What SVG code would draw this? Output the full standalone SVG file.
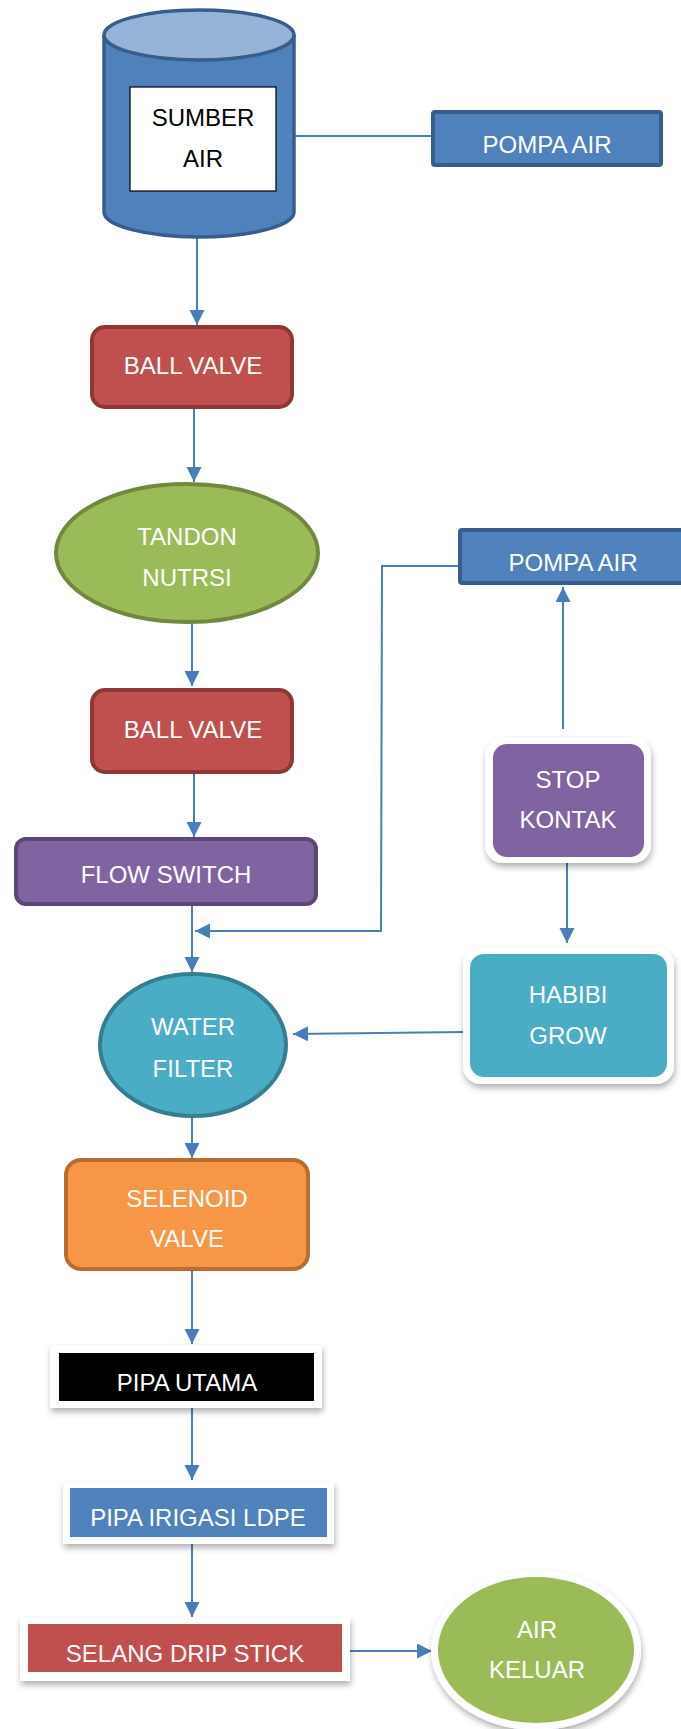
<svg xmlns="http://www.w3.org/2000/svg" width="681" height="1729" viewBox="0 0 681 1729">
<defs>
<marker id="arr" markerUnits="userSpaceOnUse" markerWidth="16" markerHeight="16" refX="15" refY="7.5" orient="auto">
<path d="M0,0 L15,7.5 L0,15 z" fill="#4A7EBB"/>
</marker>
<filter id="sh" x="-20%" y="-20%" width="140%" height="150%">
<feDropShadow dx="1" dy="4" stdDeviation="3" flood-color="#000" flood-opacity="0.3"/>
</filter>
</defs>
<style>
text{font-family:"Liberation Sans",Arial,sans-serif;font-size:24px;text-anchor:middle;fill:#fff}
.conn{fill:none;stroke:#4A7EBB;stroke-width:2}
.blue{fill:#4F81BD;stroke:#385D8A;stroke-width:4}
.red{fill:#C0504D;stroke:#8C3836;stroke-width:4}
.purple{fill:#8064A2;stroke:#5C4776;stroke-width:4}
.frame{fill:#fff;filter:url(#sh)}
</style>
<rect width="681" height="1729" fill="#fff"/>

<g id="connectors">
<line class="conn" x1="197" y1="237" x2="197" y2="325" marker-end="url(#arr)"/>
<line class="conn" x1="294" y1="136" x2="432" y2="136"/>
<line class="conn" x1="194" y1="397" x2="194" y2="482" marker-end="url(#arr)"/>
<line class="conn" x1="192" y1="607" x2="192" y2="686" marker-end="url(#arr)"/>
<line class="conn" x1="194" y1="758" x2="194" y2="837" marker-end="url(#arr)"/>
<line class="conn" x1="192" y1="893" x2="192" y2="972" marker-end="url(#arr)"/>
<polyline class="conn" points="458,566 382,566 381,931 195,931" marker-end="url(#arr)"/>
<line class="conn" x1="563" y1="729" x2="563" y2="587" marker-end="url(#arr)"/>
<line class="conn" x1="567" y1="862" x2="567" y2="943" marker-end="url(#arr)"/>
<line class="conn" x1="464" y1="1032" x2="293" y2="1034" marker-end="url(#arr)"/>
<line class="conn" x1="192" y1="1082" x2="192" y2="1158" marker-end="url(#arr)"/>
<line class="conn" x1="192" y1="1271" x2="192" y2="1344" marker-end="url(#arr)"/>
<line class="conn" x1="192" y1="1405" x2="192" y2="1480" marker-end="url(#arr)"/>
<line class="conn" x1="192" y1="1540" x2="192" y2="1617" marker-end="url(#arr)"/>
<line class="conn" x1="347" y1="1651" x2="432" y2="1651" marker-end="url(#arr)"/>
</g>

<g id="sumber-air">
<path d="M104,35 L104,212 A95,25 0 0 0 294,212 L294,35" fill="#4F81BD" stroke="#385D8A" stroke-width="3.5"/>
<ellipse cx="199" cy="35" rx="95" ry="25" fill="#95B3D7" stroke="#385D8A" stroke-width="3.5"/>
<rect x="130" y="87" width="146" height="104" fill="#fff" stroke="#000" stroke-width="1.2"/>
<text x="203" y="126" style="fill:#000">SUMBER</text>
<text x="203" y="167" style="fill:#000">AIR</text>
</g>

<g id="pompa-air-1">
<rect class="blue" x="433" y="112" width="228" height="53" rx="2"/>
<text x="547" y="153">POMPA AIR</text>
</g>

<g id="ball-valve-1">
<rect class="red" x="92" y="327" width="200" height="80" rx="13"/>
<text x="193" y="374">BALL VALVE</text>
</g>

<g id="tandon-nutrisi">
<ellipse cx="187" cy="553" rx="131" ry="69" fill="#9BBB59" stroke="#71893F" stroke-width="4"/>
<text x="187" y="545">TANDON</text>
<text x="187" y="586">NUTRSI</text>
</g>

<g id="ball-valve-2">
<rect class="red" x="92" y="690" width="200" height="82" rx="13"/>
<text x="193" y="738">BALL VALVE</text>
</g>

<g id="flow-switch">
<rect class="purple" x="16" y="839" width="300" height="65" rx="10"/>
<text x="166" y="883">FLOW SWITCH</text>
</g>

<g id="pompa-air-2">
<rect class="blue" x="460" y="530" width="230" height="53" rx="2"/>
<text x="573" y="571">POMPA AIR</text>
</g>

<g id="stop-kontak">
<rect class="frame" x="485" y="737" width="166" height="126" rx="18"/>
<rect x="493" y="744" width="151" height="113" rx="14" fill="#8064A2"/>
<text x="568" y="788">STOP</text>
<text x="568" y="828">KONTAK</text>
</g>

<g id="habibi-grow">
<rect class="frame" x="463" y="947" width="211" height="137" rx="18"/>
<rect x="470" y="954" width="197" height="123" rx="14" fill="#4BACC6"/>
<text x="568" y="1003">HABIBI</text>
<text x="568" y="1044">GROW</text>
</g>

<g id="water-filter">
<ellipse cx="193" cy="1045" rx="93" ry="71" fill="#4BACC6" stroke="#357D91" stroke-width="4"/>
<text x="193" y="1035">WATER</text>
<text x="193" y="1077">FILTER</text>
</g>

<g id="selenoid-valve">
<rect x="66" y="1160" width="242" height="109" rx="15" fill="#F79646" stroke="#B66D31" stroke-width="4"/>
<text x="187" y="1207">SELENOID</text>
<text x="187" y="1247">VALVE</text>
</g>

<g id="pipa-utama">
<rect class="frame" x="50" y="1345" width="272" height="63"/>
<rect x="59" y="1353" width="255" height="48" fill="#000"/>
<text x="187" y="1391">PIPA UTAMA</text>
</g>

<g id="pipa-irigasi">
<rect class="frame" x="63" y="1482" width="271" height="62"/>
<rect x="70" y="1488" width="257" height="49" fill="#4F81BD"/>
<text x="198" y="1526">PIPA IRIGASI LDPE</text>
</g>

<g id="selang-drip-stick">
<rect class="frame" x="20" y="1617" width="330" height="64"/>
<rect x="28" y="1624" width="314" height="48" fill="#C0504D"/>
<text x="185" y="1662">SELANG DRIP STICK</text>
</g>

<g id="air-keluar">
<ellipse cx="536" cy="1650" rx="105" ry="80" fill="#fff" filter="url(#sh)"/>
<ellipse cx="536" cy="1650" rx="98" ry="73" fill="#9BBB59"/>
<text x="537" y="1638">AIR</text>
<text x="537" y="1678">KELUAR</text>
</g>
</svg>
